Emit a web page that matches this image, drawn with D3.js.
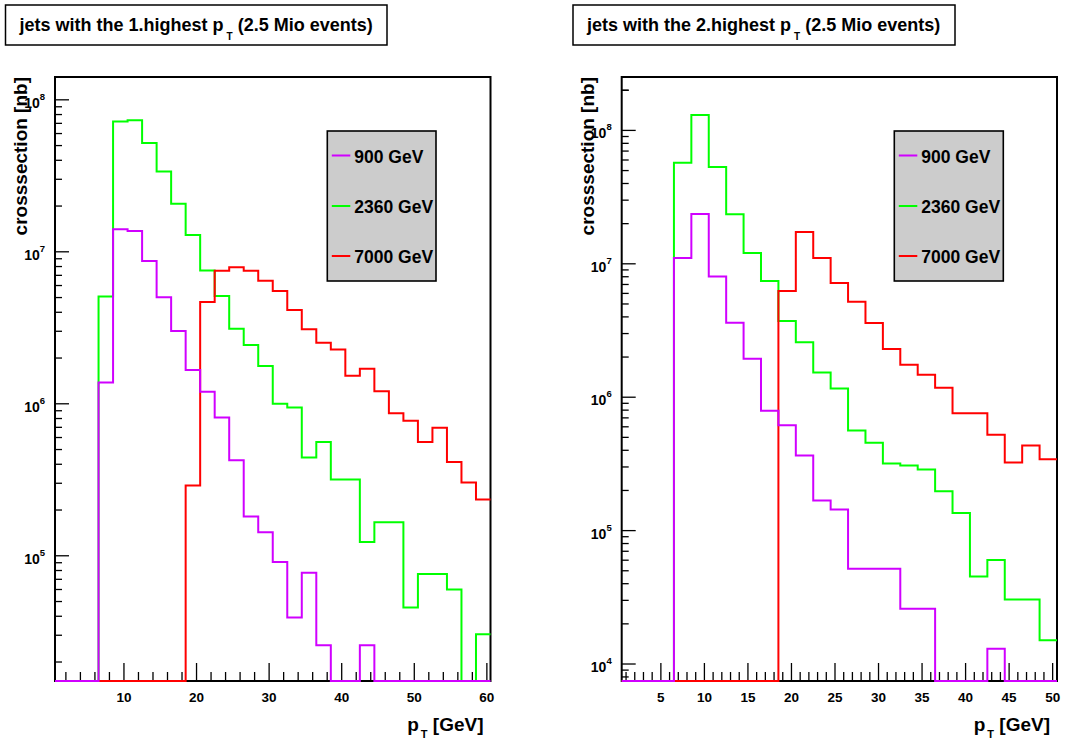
<!DOCTYPE html>
<html>
<head>
<meta charset="utf-8">
<script src="https://d3js.org/d3.v7.min.js"></script>
<style>
  html, body { margin: 0; padding: 0; background: #fff; }
  svg { display: block; }
  text { font-family: "Liberation Sans", Arial, Helvetica, sans-serif; font-weight: bold; fill: #000; }
</style>
</head>
<body>
<svg id="chart" width="1065" height="744"></svg>
<script>
// ---------------- DATA ----------------
const seriesNames = ["900 GeV", "2360 GeV", "7000 GeV"];
const seriesColors = ["#d000ff", "#00ff00", "#ff0000"];

// Panel 1: jets with the 1. highest pT  (bins of 2 GeV, 0.5 .. 60.5)
const edges1 = [0.5, 2.5, 4.5, 6.5, 8.5, 10.5, 12.5, 14.5, 16.5, 18.5, 20.5, 22.5, 24.5, 26.5, 28.5, 30.5,
                32.5, 34.5, 36.5, 38.5, 40.5, 42.5, 44.5, 46.5, 48.5, 50.5, 52.5, 54.5, 56.5, 58.5, 60.5];
const p1_900  = [0, 0, 0, 1.38e6, 1.41e7, 1.37e7, 8.71e6, 5.03e6, 3.01e6, 1.67e6, 1.20e6, 8.13e5, 4.25e5, 1.81e5, 1.43e5,
                 9.1e4, 3.93e4, 7.73e4, 2.58e4, 0, 0, 2.58e4, 0, 0, 0, 0, 0, 0, 0, 0];
const p1_2360 = [0, 0, 0, 5.09e6, 7.21e7, 7.35e7, 5.20e7, 3.37e7, 2.07e7, 1.29e7, 7.52e6, 5.12e6, 3.12e6, 2.44e6, 1.77e6,
                 1.00e6, 9.46e5, 4.43e5, 5.60e5, 3.18e5, 3.18e5, 1.23e5, 1.66e5, 1.66e5, 4.57e4, 7.6e4, 7.6e4, 6.01e4, 0, 3.04e4];
const p1_7000 = [0, 0, 0, 0, 0, 0, 0, 0, 0, 2.9e5, 4.68e6, 7.51e6, 7.9e6, 7.51e6, 6.45e6,
                 5.52e6, 4.14e6, 3.09e6, 2.52e6, 2.28e6, 1.53e6, 1.70e6, 1.21e6, 8.66e5, 7.74e5, 5.61e5, 6.96e5, 4.14e5, 3.04e5, 2.35e5];

// Panel 2: jets with the 2. highest pT  (bins of 2 GeV, 0.5 .. 50.5)
const edges2 = [0.5, 2.5, 4.5, 6.5, 8.5, 10.5, 12.5, 14.5, 16.5, 18.5, 20.5, 22.5, 24.5, 26.5, 28.5, 30.5,
                32.5, 34.5, 36.5, 38.5, 40.5, 42.5, 44.5, 46.5, 48.5, 50.5];
const p2_900  = [0, 0, 0, 1.107e7, 2.36e7, 8.04e6, 3.62e6, 1.94e6, 7.9e5, 6.17e5, 3.65e5, 1.68e5, 1.44e5,
                 5.17e4, 5.17e4, 5.17e4, 2.59e4, 2.59e4, 0, 0, 0, 1.30e4, 0, 0, 0];
const p2_2360 = [0, 0, 0, 5.72e7, 1.305e8, 5.32e7, 2.35e7, 1.206e7, 7.43e6, 3.72e6, 2.58e6, 1.53e6, 1.16e6,
                 5.63e5, 4.55e5, 3.18e5, 3.07e5, 2.87e5, 1.97e5, 1.356e5, 4.52e4, 6.02e4, 3.04e4, 3.04e4, 1.51e4];
const p2_7000 = [0, 0, 0, 0, 0, 0, 0, 0, 0, 6.25e6, 1.728e7, 1.107e7, 7.18e6, 5.19e6, 3.60e6, 2.30e6, 1.75e6,
                 1.475e6, 1.177e6, 7.59e5, 7.59e5, 5.23e5, 3.24e5, 4.34e5, 3.42e5];

const xTickLabels1 = [10, 20, 30, 40, 50, 60];
const xTickLabels2 = [5, 10, 15, 20, 25, 30, 35, 40, 45, 50];
const yTickExp1 = [5, 6, 7, 8];
const yTickExp2 = [4, 5, 6, 7, 8];

const titles = ["jets with the 1.highest p", "jets with the 2.highest p"];

// ---------------- DRAW ----------------
const svg = d3.select("#chart");

function panel(cfg) {
  const g = svg.append("g");
  const x = d3.scaleLinear().domain(cfg.xDomain).range([cfg.left, cfg.right]);
  const y = d3.scaleLog().domain(cfg.yDomain).range([cfg.bottom, cfg.top]);

  // title box
  g.append("rect").attr("x", cfg.tbox[0]).attr("y", 5).attr("width", cfg.tbox[1] - cfg.tbox[0]).attr("height", 40)
    .attr("fill", "#fff").attr("stroke", "#000").attr("stroke-width", 1.5);
  const tt = g.append("text").attr("x", cfg.tbox[0] + 14).attr("y", 31).style("font-size", "18px");
  tt.append("tspan").text(cfg.title);
  tt.append("tspan").attr("dx", 3).attr("dy", 9).style("font-size", "10px").text("T");
  tt.append("tspan").attr("dy", -9).text(" (2.5 Mio events)");

  // frame
  g.append("rect").attr("x", cfg.left).attr("y", cfg.top).attr("width", cfg.right - cfg.left)
    .attr("height", cfg.bottom - cfg.top).attr("fill", "#fff").attr("stroke", "#000").attr("stroke-width", 2);

  // y ticks (log)
  const yt = y.ticks();
  yt.forEach(v => {
    const isMajor = Math.abs(Math.log10(v) - Math.round(Math.log10(v))) < 1e-9;
    g.append("line").attr("x1", cfg.left).attr("x2", cfg.left + (isMajor ? 14 : 7))
      .attr("y1", y(v)).attr("y2", y(v)).attr("stroke", "#000").attr("stroke-width", 1.3);
  });
  // extra minor ticks above the top decade
  const ymax = cfg.yDomain[1];
  const topDec = Math.pow(10, Math.floor(Math.log10(ymax)));
  for (let m = 2; m * topDec <= ymax; m++) {
    g.append("line").attr("x1", cfg.left).attr("x2", cfg.left + 7)
      .attr("y1", y(m * topDec)).attr("y2", y(m * topDec)).attr("stroke", "#000").attr("stroke-width", 1.3);
  }
  cfg.yExp.forEach(e => {
    const t = g.append("text").attr("x", cfg.left - 10).attr("y", y(Math.pow(10, e)) + 8)
      .attr("text-anchor", "end").style("font-size", "14px");
    t.append("tspan").text("10");
    t.append("tspan").attr("dy", -8).style("font-size", "9.5px").text(e);
  });

  // x ticks
  cfg.xMinor.forEach(v => {
    const isMajor = cfg.xLabels.includes(v);
    g.append("line").attr("x1", x(v)).attr("x2", x(v)).attr("y1", cfg.bottom)
      .attr("y2", cfg.bottom - (isMajor ? 18 : 9)).attr("stroke", "#000").attr("stroke-width", 1.3);
  });
  cfg.xLabels.forEach(v => {
    g.append("text").attr("x", x(v)).attr("y", cfg.bottom + 21).attr("text-anchor", "middle")
      .style("font-size", "13.5px").text(v);
  });

  // axis titles
  const xt = g.append("text").attr("x", cfg.right - 7).attr("y", 731).attr("text-anchor", "end").style("font-size", "19px");
  xt.append("tspan").text("p");
  xt.append("tspan").attr("dx", 2).attr("dy", 7).style("font-size", "11px").text("T");
  xt.append("tspan").attr("dy", -7).text(" [GeV]");

  g.append("text").attr("transform", `translate(${cfg.ytitleX},${cfg.top}) rotate(-90)`)
    .attr("text-anchor", "end").style("font-size", "19px").text("crosssection [nb]");

  // histograms
  const ymin = cfg.yDomain[0];
  const line = d3.line().x(d => x(d[0])).y(d => y(Math.max(d[1], ymin))).curve(d3.curveStepAfter);
  const order = [1, 2, 0]; // green, red, magenta on top
  order.forEach(si => {
    const vals = cfg.series[si];
    const pts = vals.map((v, i) => [cfg.edges[i], v]);
    pts.push([cfg.edges[vals.length], vals[vals.length - 1]]);
    g.append("path").attr("d", line(pts)).attr("fill", "none")
      .attr("stroke", seriesColors[si]).attr("stroke-width", 2);
  });

  // legend
  const L = cfg.legend;
  g.append("rect").attr("x", L[0]).attr("y", 131).attr("width", L[1] - L[0]).attr("height", 150)
    .attr("fill", "#cccccc").attr("stroke", "#000").attr("stroke-width", 1.6);
  const ly = [155.5, 206, 256];
  seriesNames.forEach((n, i) => {
    g.append("line").attr("x1", L[0] + 4.5).attr("x2", L[0] + 23).attr("y1", ly[i]).attr("y2", ly[i])
      .attr("stroke", seriesColors[i]).attr("stroke-width", 2);
    g.append("text").attr("x", L[0] + 27).attr("y", ly[i] + 7).style("font-size", "17.5px").text(n);
  });
}

panel({
  left: 55, right: 490.5, top: 77, bottom: 681,
  xDomain: [0.5, 60.5], yDomain: [1.5e4, 1.413e8],
  edges: edges1, series: [p1_900, p1_2360, p1_7000],
  xMinor: d3.range(2, 61, 2), xLabels: xTickLabels1, yExp: yTickExp1,
  title: titles[0], tbox: [5.5, 387], legend: [327.3, 436], ytitleX: 27
});
panel({
  left: 621.7, right: 1057, top: 77, bottom: 681,
  xDomain: [0.5, 50.5], yDomain: [7458, 2.514e8],
  edges: edges2, series: [p2_900, p2_2360, p2_7000],
  xMinor: d3.range(1, 51, 1), xLabels: xTickLabels2, yExp: yTickExp2,
  title: titles[1], tbox: [573, 955], legend: [894.3, 1003.3], ytitleX: 593.5
});
</script>
</body>
</html>
